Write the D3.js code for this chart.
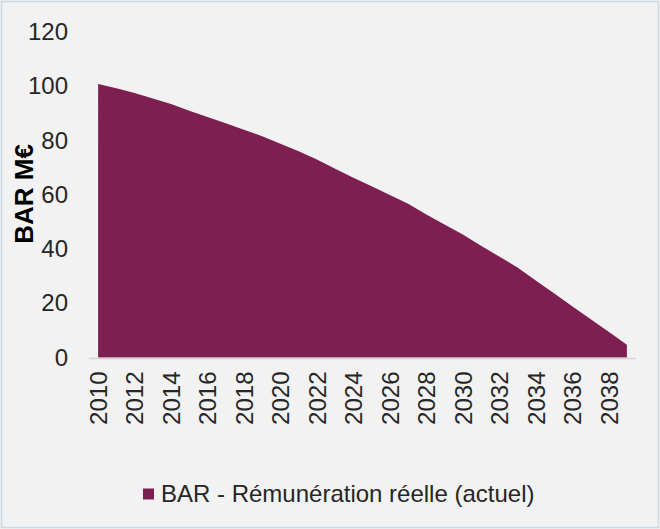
<!DOCTYPE html>
<html>
<head>
<meta charset="utf-8">
<script src="https://cdn.jsdelivr.net/npm/d3@7"></script>
<style>
  html, body { margin: 0; padding: 0; background: #f2f2f2; }
  svg { display: block; }
  text { font-family: "Liberation Sans", Arial, sans-serif; }
</style>
</head>
<body>
<script>
// Annual real remuneration (M€), 2010–2039
const years = d3.range(2010, 2040);
const remuneration = [
  100.8, 99.3, 97.5, 95.5, 93.5, 91.0, 88.7, 86.4, 84.0, 81.6,
  78.8, 76.0, 73.0, 69.6, 66.3, 63.1, 59.9, 56.7, 52.7, 49.0,
  45.3, 41.2, 37.2, 33.2, 28.4, 23.7, 18.9, 14.2, 9.5, 4.7
];
const yTicks = [0, 20, 40, 60, 80, 100, 120];
const xTickYears = years.filter(y => y % 2 === 0);
const yTitle = "BAR M€";
const seriesName = "BAR - Rémunération réelle (actuel)";

const W = 660, H = 529;
const fill = "#7d1f50";
const textColor = "#262626";
const fontSize = "24px";

const svg = d3.select("body").append("svg")
  .attr("width", W).attr("height", H);

svg.append("rect")
  .attr("x", 0).attr("y", 0).attr("width", W).attr("height", H)
  .attr("fill", "#f2f2f2");
svg.append("rect")
  .attr("x", 1.5).attr("y", 1.5).attr("width", W - 3).attr("height", H - 3)
  .attr("fill", "none").attr("stroke", "#cdd8e0").attr("stroke-width", 1.5);

const x = d3.scalePoint().domain(years).range([89, 636]).padding(0.5);
const y = d3.scaleLinear().domain([0, 120]).range([357.5, 32]);

const data = years.map((yr, i) => ({ year: yr, value: remuneration[i] }));

// filled area
svg.append("path")
  .datum(data)
  .attr("fill", fill)
  .attr("d", d3.area()
    .x(d => x(d.year))
    .y0(y(0))
    .y1(d => y(d.value)));

// category axis line
svg.append("line")
  .attr("x1", 89).attr("x2", 636)
  .attr("y1", y(0) + 1).attr("y2", y(0) + 1)
  .attr("stroke", "#d4d4d4").attr("stroke-width", 1.5);

// y axis labels (no axis line)
const yAxis = d3.axisLeft(y).tickValues(yTicks).tickSize(0).tickPadding(0);
const yg = svg.append("g").attr("transform", "translate(68,0)").call(yAxis);
yg.select(".domain").remove();
yg.selectAll("text")
  .attr("fill", textColor)
  .style("font-size", fontSize)
  .style("font-family", "'Liberation Sans', Arial, sans-serif");

// x axis labels, rotated
const xAxis = d3.axisBottom(x).tickValues(xTickYears).tickSize(0).tickFormat(d3.format("d"));
const xg = svg.append("g").attr("transform", `translate(0,${y(0)})`).call(xAxis);
xg.select(".domain").remove();
xg.selectAll("text")
  .attr("fill", textColor)
  .style("font-size", fontSize)
  .style("font-family", "'Liberation Sans', Arial, sans-serif")
  .attr("text-anchor", "end")
  .attr("dy", "0.35em")
  .attr("transform", "translate(0,14) rotate(-90)")
  .attr("x", 0).attr("y", 0);

// y axis title
svg.append("text")
  .attr("transform", "translate(33,194) rotate(-90)")
  .attr("text-anchor", "middle")
  .attr("fill", "#000")
  .style("font-size", "26px")
  .style("font-weight", "bold")
  .text(yTitle);

// legend
const lg = svg.append("g").attr("transform", "translate(143,494)");
lg.append("rect")
  .attr("x", 0).attr("y", -5.5).attr("width", 11).attr("height", 11)
  .attr("fill", fill);
lg.append("text")
  .attr("x", 18).attr("y", 0).attr("dy", "0.35em")
  .attr("fill", textColor)
  .style("font-size", fontSize)
  .text(seriesName);
</script>
</body>
</html>
